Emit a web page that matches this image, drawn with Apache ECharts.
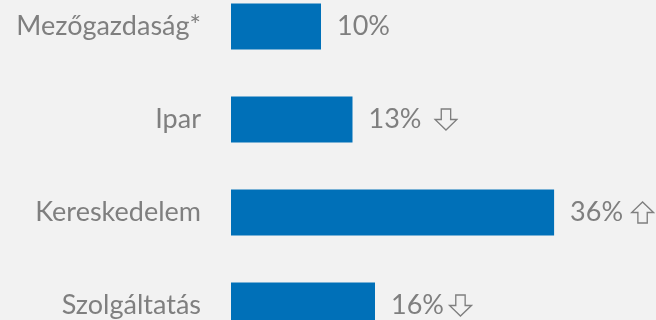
<!DOCTYPE html>
<html><head><meta charset="utf-8">
<script src="https://cdn.jsdelivr.net/npm/echarts@6/dist/echarts.min.js"></script>
<style>html,body{margin:0;padding:0;background:#f2f2f2}#c{width:656px;height:320px}</style>
</head><body><div id="c"></div>
<script>
const categories = ['Mezőgazdaság*', 'Ipar', 'Kereskedelem', 'Szolgáltatás'];
const values = [10, 13.5, 35.9, 16];
const valueTexts = ['10%', '13%', '36%', '16%'];
const trends = ['', 'down', 'up', 'down'];
const arrowGaps = [0, 12, 7, 4];

function arrowSvg(dir) {
  const pts = dir === 'down'
    ? '7.5,1.5 16.5,1.5 16.5,12 22.5,12 12,22.5 1.5,12 7.5,12'
    : '7.5,22.5 16.5,22.5 16.5,12 22.5,12 12,1.5 1.5,12 7.5,12';
  const svg = '<svg xmlns="http://www.w3.org/2000/svg" width="24" height="24" viewBox="0 0 24 24">' +
    '<polygon points="' + pts + '" fill="none" stroke="#7f7f7f" stroke-width="1.3" stroke-linejoin="miter"/></svg>';
  return 'data:image/svg+xml;charset=utf-8,' + encodeURIComponent(svg);
}

const rich = {
  down: { width: 25, height: 24, backgroundColor: { image: arrowSvg('down') } },
  up: { width: 25, height: 24, backgroundColor: { image: arrowSvg('up') } }
};
arrowGaps.forEach((g, i) => { rich['g' + i] = { width: g }; });

const chart = echarts.init(document.getElementById('c'));
const FONT = 'Lato, "Open Sans", sans-serif';
chart.setOption({
  backgroundColor: '#f2f2f2',
  animation: false,
  grid: { left: 231, top: -20, width: 360, height: 372, outerBoundsMode: 'none', containLabel: false },
  xAxis: { type: 'value', min: 0, max: 40, show: false },
  yAxis: {
    type: 'category', data: categories, inverse: true,
    axisLine: { show: false }, axisTick: { show: false },
    axisLabel: { margin: 30, color: '#7f7f7f', fontSize: 27, fontFamily: FONT }
  },
  series: [{
    type: 'bar', data: values, barWidth: 46,
    itemStyle: { color: '#0070b8' },
    label: {
      show: true, position: 'right', distance: 16,
      color: '#7f7f7f', fontSize: 27, fontFamily: FONT,
      formatter: p => {
        const i = p.dataIndex;
        let s = valueTexts[i];
        if (trends[i]) s += '{g' + i + '| }{' + trends[i] + '| }';
        return s;
      },
      rich: rich
    }
  }]
});
</script></body></html>
